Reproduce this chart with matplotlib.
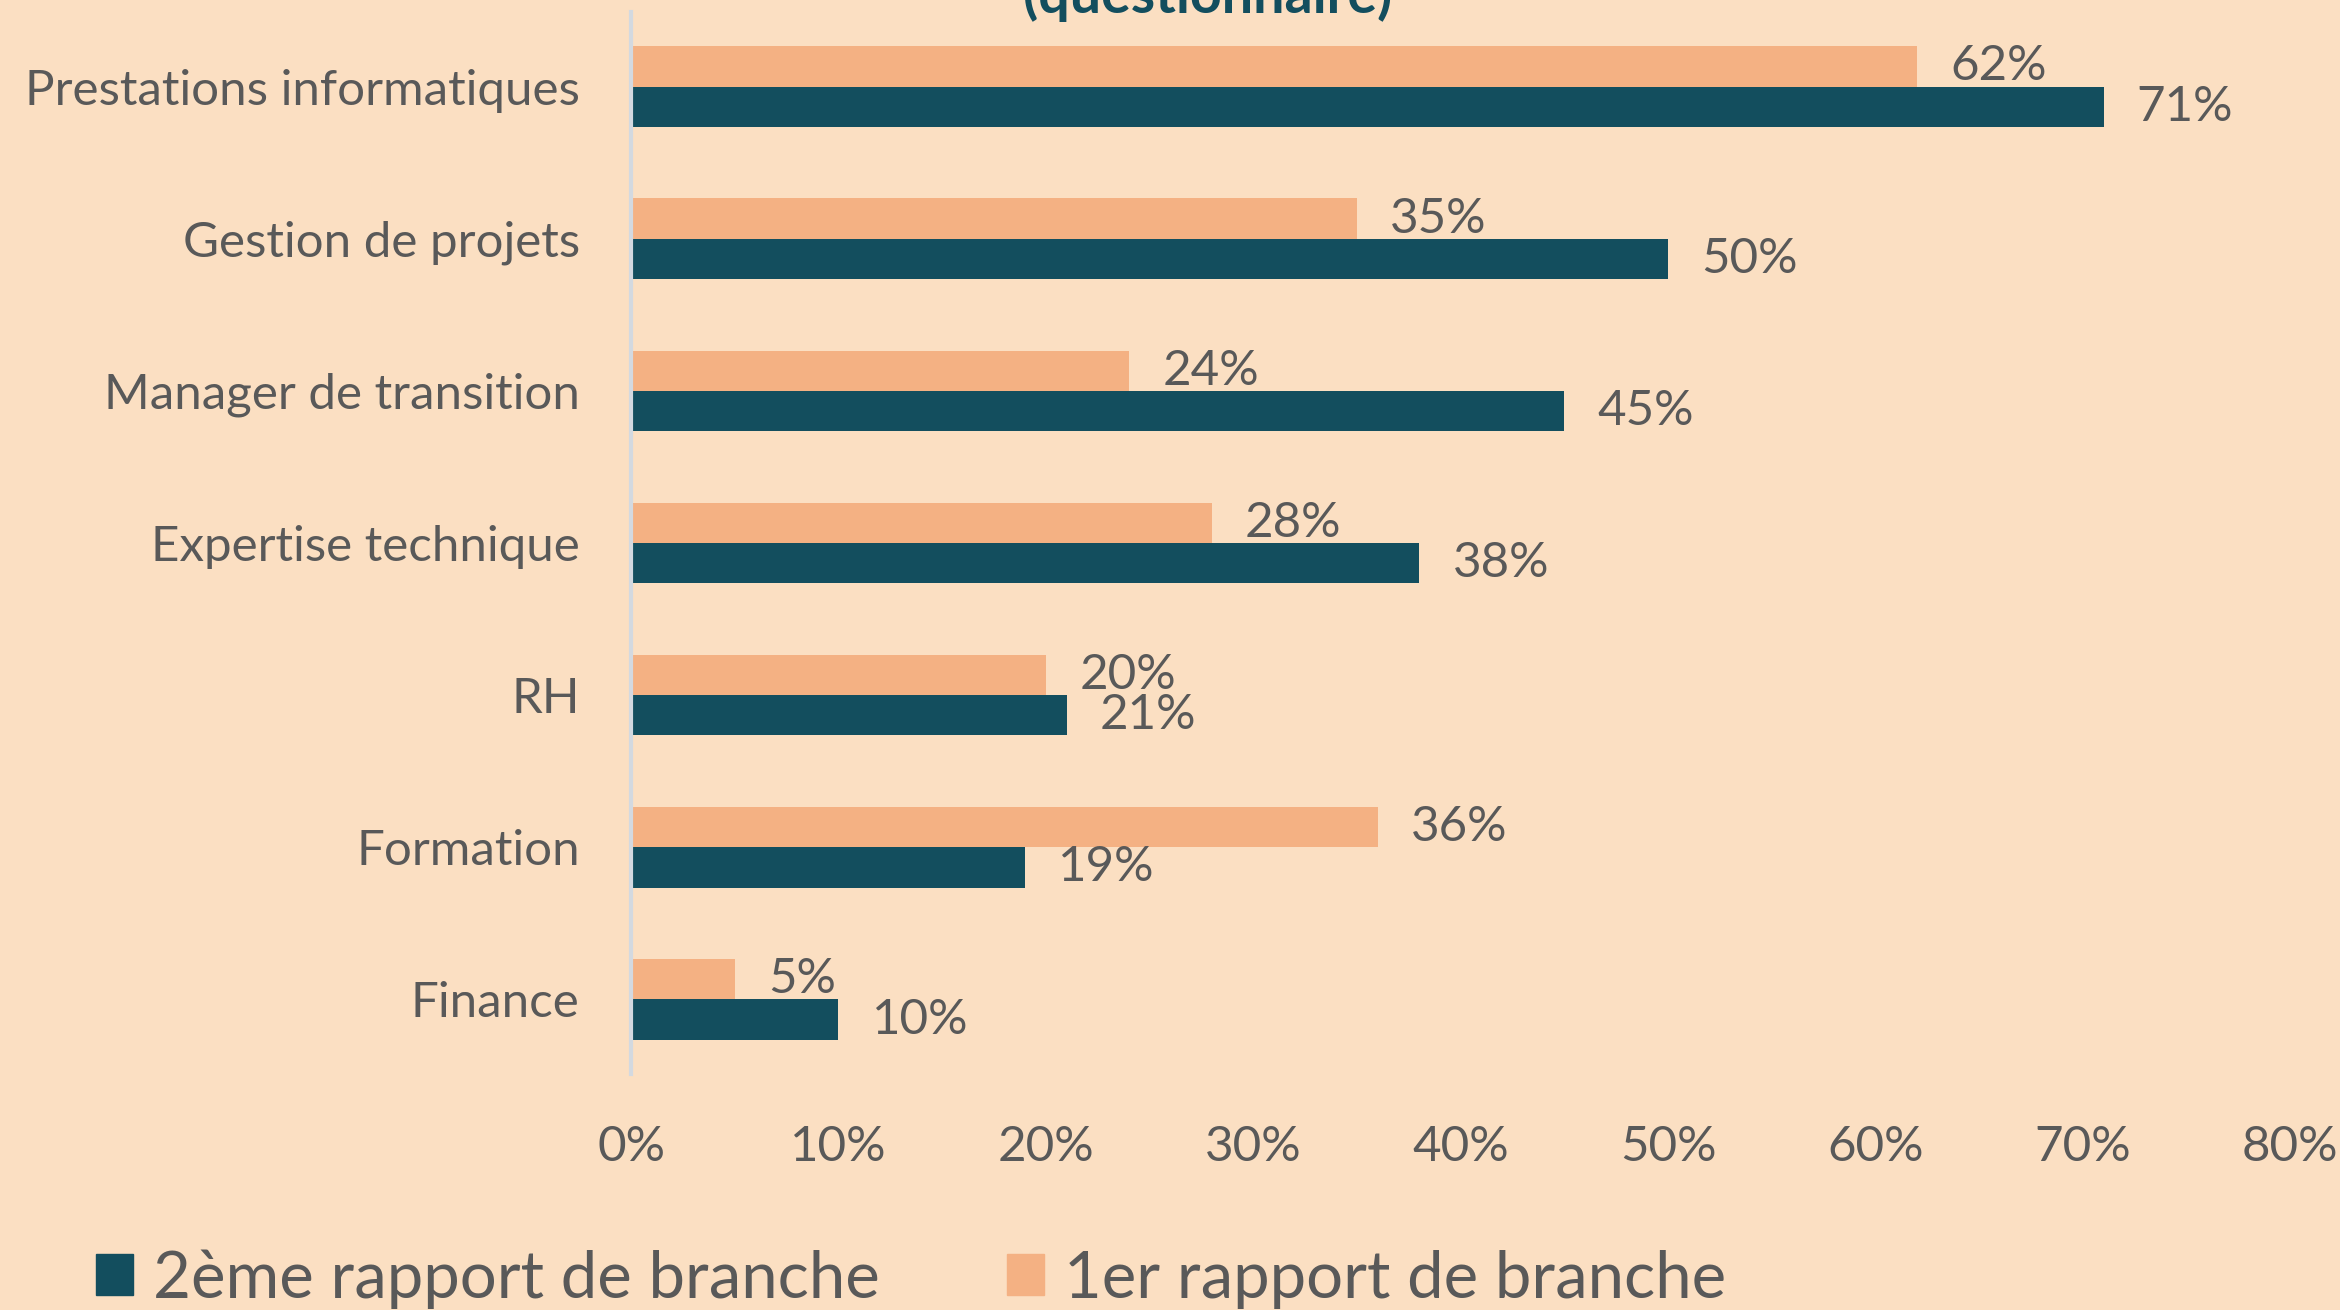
import matplotlib
matplotlib.use("Agg")
import matplotlib.pyplot as plt
from matplotlib.patches import Patch

# data (percent)
categories = [
    "Prestations informatiques",
    "Gestion de projets",
    "Manager de transition",
    "Expertise technique",
    "RH",
    "Formation",
    "Finance",
]
rapport_1 = [62, 35, 24, 28, 20, 36, 5]
rapport_2 = [71, 50, 45, 38, 21, 19, 10]
series_names = ["2ème rapport de branche", "1er rapport de branche"]
x_ticks = [0, 10, 20, 30, 40, 50, 60, 70, 80]
title = "(questionnaire)"

BG = "#FBDFC2"
TEAL = "#134E5E"
ORANGE = "#F4B183"
GREY = "#595959"
AXIS = "#D3D9E0"

plt.rcParams["font.family"] = ["Lato", "DejaVu Sans"]

fig = plt.figure(figsize=(23.4, 13.1), dpi=100, facecolor=BG)
ax = fig.add_axes([0.2697, 0.1802, 0.709, 0.8106], facecolor=BG)

n = len(categories)
ypos = [n - 1 - i for i in range(n)]
h = 0.265

bars_1 = ax.barh([y + h / 2 for y in ypos], rapport_1, height=h, color=ORANGE)
bars_2 = ax.barh([y - h / 2 for y in ypos], rapport_2, height=h, color=TEAL)

for bars, vals in ((bars_1, rapport_1), (bars_2, rapport_2)):
    for b, v in zip(bars, vals):
        ax.annotate(f"{v}%", (b.get_width(), b.get_y() + b.get_height() / 2),
                    xytext=(24, 0), textcoords="offset points",
                    va="center", ha="left", fontsize=35.5, color=GREY)

ax.set_xlim(0, 80)
ax.set_ylim(-0.49, n - 1 + 0.49)
ax.set_xticks(x_ticks)
ax.set_xticklabels([f"{t}%" for t in x_ticks])
ax.set_yticks(ypos)
ax.set_yticklabels(categories)
ax.tick_params(axis="x", length=0, pad=37, labelsize=35.5, labelcolor=GREY)
ax.tick_params(axis="y", length=0, pad=37, labelsize=35.5, labelcolor=GREY)

for side in ("top", "right", "bottom"):
    ax.spines[side].set_visible(False)
ax.spines["left"].set_color(AXIS)
ax.spines["left"].set_linewidth(3)

# title is mostly cut off at the top edge in the original
fig.text(0.516, 1 - 13 / 1310, title, ha="center", va="baseline",
         fontsize=40, fontweight="bold", color=TEAL)

handles = [Patch(color=TEAL), Patch(color=ORANGE)]
fig.legend(handles, series_names, loc="center left", ncol=2,
           bbox_to_anchor=(0.041, 0.0235), frameon=False, fontsize=47,
           labelcolor=GREY, handlelength=0.57, handleheight=0.59,
           handletextpad=0.3, columnspacing=1.95, borderpad=0, borderaxespad=0)

fig.savefig("out.png", dpi=100, facecolor=BG)
